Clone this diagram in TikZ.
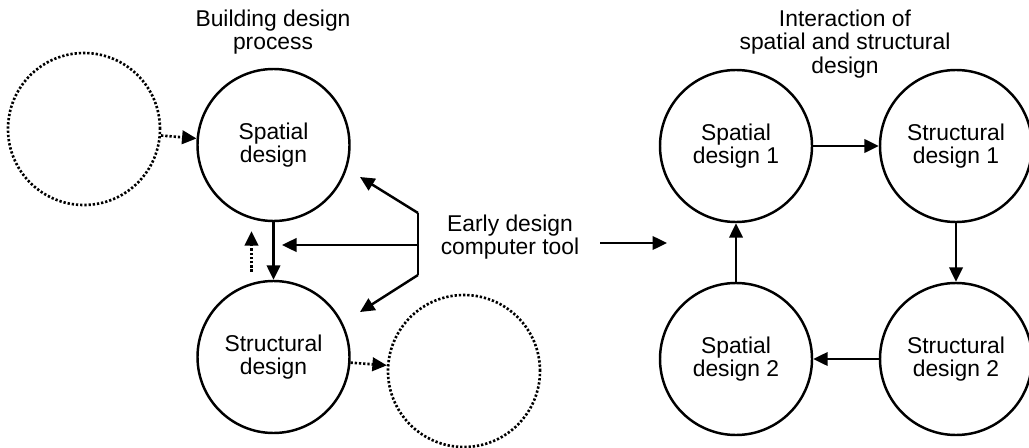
\documentclass[tikz,border=0pt]{standalone}
\usepackage{fontspec}
\setmainfont{Liberation Sans}
\usetikzlibrary{arrows.meta}

\tikzset{
  phase/.style={circle, draw, line width=1.4pt, minimum size=3.04cm, inner sep=0pt, align=center},
  ghost/.style={circle, draw, line width=1.5pt, dash pattern=on 1.3pt off 1.1pt, minimum size=3.04cm},
  arr/.style={line width=1.4pt, -{Triangle[length=0.29cm,width=0.27cm]}},
  dotarr/.style={arr, line width=1.5pt, dash pattern=on 1.3pt off 1.1pt},
  caption/.style={align=center}
}

\begin{document}
\begin{tikzpicture}[font=\fontsize{13}{13.2}\selectfont]
      \useasboundingbox (0, 0) rectangle (20.58, 8.94);
      % building design process
      \node[caption] (left title) at (5.46, 8.30) {Building design\\process};
      \node[ghost] (prev) at (1.68, 6.36) {};
      \node[phase] (spatial) at (5.47, 6.04) {Spatial\\design};
      \node[phase] (structural) at (5.47, 1.80) {Structural\\design};
      \node[ghost] (next) at (9.28, 1.52) {};
      \draw[dotarr] (prev) -- (spatial);
      \draw[arr] (spatial) -- (structural);
      \draw[dotarr, shorten <=0.16cm, shorten >=0.18cm] ([xshift=-0.44cm]structural.north) -- ([xshift=-0.44cm]spatial.south);
      \draw[dotarr] (structural) -- (next);
      % computer tool
      \node[caption] (tool) at (10.20, 4.20) {Early design\\computer tool};
      \coordinate (fork top) at (8.36, 4.68);
      \coordinate (fork mid) at (8.36, 4.04);
      \coordinate (fork bot) at (8.36, 3.44);
      \coordinate (hit top) at (7.20, 5.40);
      \coordinate (hit mid) at (5.64, 4.04);
      \coordinate (hit bot) at (7.20, 2.70);
      \draw[line width=1.4pt] (fork top) -- (fork bot);
      \draw[arr] (fork top) -- (hit top);
      \draw[arr] (fork mid) -- (hit mid);
      \draw[arr] (fork bot) -- (hit bot);
      \coordinate (tool out) at (12.00, 4.08);
      \coordinate (tool in) at (13.34, 4.08);
      \draw[arr] (tool out) -- (tool in);
      % interaction of spatial and structural design
      \node[caption] (right title) at (16.90, 8.06) {Interaction of\\spatial and structural\\design};
      \node[phase] (sp1) at (14.72, 6.02) {Spatial\\design 1};
      \node[phase] (st1) at (19.12, 6.02) {Structural\\design 1};
      \node[phase] (st2) at (19.12, 1.76) {Structural\\design 2};
      \node[phase] (sp2) at (14.72, 1.76) {Spatial\\design 2};
      \draw[arr] (sp1) -- (st1);
      \draw[arr] (st1) -- (st2);
      \draw[arr] (st2) -- (sp2);
      \draw[arr] (sp2) -- (sp1);
\end{tikzpicture}
\end{document}
